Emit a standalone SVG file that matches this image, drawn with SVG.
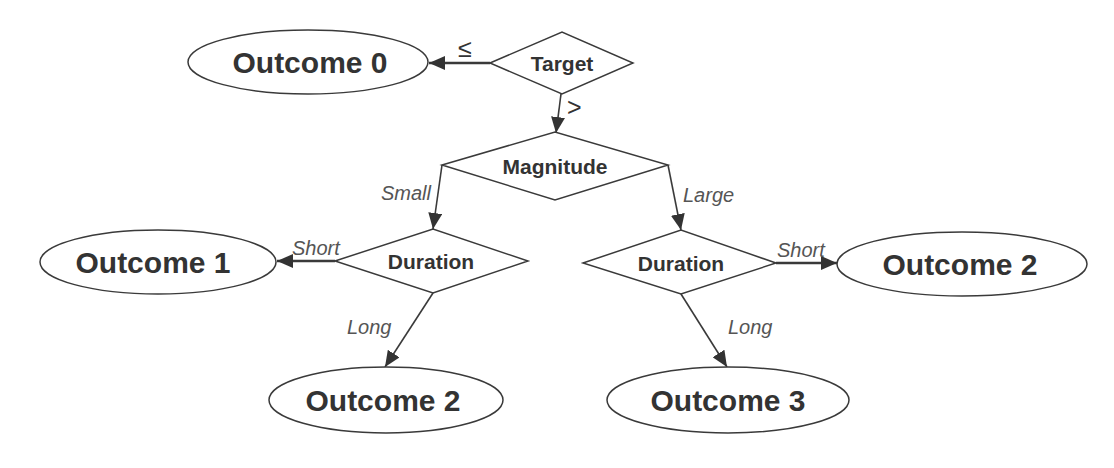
<svg xmlns="http://www.w3.org/2000/svg" width="1114" height="468" viewBox="0 0 1114 468">
<style>
.shape{fill:#fff;stroke:#3a3a3a;stroke-width:1.5}
.lbl{font-family:"Liberation Sans",Arial,sans-serif;font-weight:bold;fill:#333;text-anchor:middle}
.out{font-size:30px}
.dec{font-size:21px}
.edge{font-family:"Liberation Sans",Arial,sans-serif;font-style:italic;font-size:20px;fill:#555}
.sym{font-family:"Liberation Sans",Arial,sans-serif;font-size:25px;fill:#333}
.ln{stroke:#3a3a3a;stroke-width:1.6;fill:none}
.thick{stroke-width:2.4}
</style>
<defs>
<marker id="ah" markerUnits="userSpaceOnUse" markerWidth="18" markerHeight="14" refX="16" refY="7" orient="auto">
<path d="M0,0 L16,7 L0,14 Z" fill="#333"/>
</marker>
</defs>
<rect width="1114" height="468" fill="#fff"/>
<g id="connectors">
<line class="ln thick" x1="490" y1="63" x2="429" y2="63" marker-end="url(#ah)"/>
<line class="ln" x1="561" y1="94" x2="556" y2="133" marker-end="url(#ah)"/>
<line class="ln" x1="442" y1="165" x2="433" y2="229" marker-end="url(#ah)"/>
<line class="ln" x1="668" y1="165" x2="681" y2="230" marker-end="url(#ah)"/>
<line class="ln thick" x1="335" y1="261" x2="277" y2="261" marker-end="url(#ah)"/>
<line class="ln" x1="433" y1="293" x2="385" y2="367" marker-end="url(#ah)"/>
<line class="ln thick" x1="776" y1="263" x2="837" y2="263" marker-end="url(#ah)"/>
<line class="ln" x1="681" y1="294" x2="727" y2="367" marker-end="url(#ah)"/>
<text class="sym" x="458" y="57">≤</text>
<text class="sym" x="567" y="116">&gt;</text>
<text class="edge" x="381" y="200">Small</text>
<text class="edge" x="683" y="202">Large</text>
<text class="edge" x="292" y="255">Short</text>
<text class="edge" x="777" y="257">Short</text>
<text class="edge" x="347" y="334">Long</text>
<text class="edge" x="728" y="334">Long</text>
</g>
<g id="target">
<polygon class="shape" points="490,63 562,32 633,63 562,94"/>
<text class="lbl dec" x="562" y="71">Target</text>
</g>
<g id="outcome0">
<ellipse class="shape" cx="308" cy="62" rx="120" ry="32"/>
<text class="lbl out" x="310" y="73">Outcome 0</text>
</g>
<g id="magnitude">
<polygon class="shape" points="442,165 555,132 668,165 555,200"/>
<text class="lbl dec" x="555" y="174">Magnitude</text>
</g>
<g id="duration-left">
<polygon class="shape" points="335,261 433,229 528,261 433,293"/>
<text class="lbl dec" x="431" y="269">Duration</text>
</g>
<g id="duration-right">
<polygon class="shape" points="583,263 681,230 776,263 681,294"/>
<text class="lbl dec" x="681" y="271">Duration</text>
</g>
<g id="outcome1">
<ellipse class="shape" cx="158" cy="262" rx="118" ry="32"/>
<text class="lbl out" x="153" y="273">Outcome 1</text>
</g>
<g id="outcome2-right">
<ellipse class="shape" cx="962" cy="264" rx="125" ry="32"/>
<text class="lbl out" x="960" y="275">Outcome 2</text>
</g>
<g id="outcome2-bottom">
<ellipse class="shape" cx="386" cy="400" rx="117" ry="33"/>
<text class="lbl out" x="383" y="411">Outcome 2</text>
</g>
<g id="outcome3">
<ellipse class="shape" cx="728" cy="400" rx="121" ry="33"/>
<text class="lbl out" x="728" y="411">Outcome 3</text>
</g>
</svg>
